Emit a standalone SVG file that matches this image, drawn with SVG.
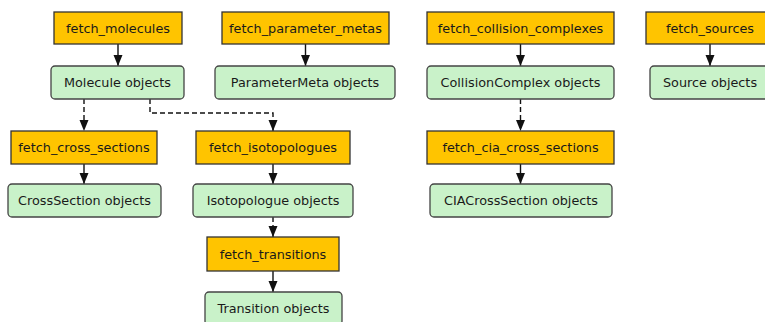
<svg xmlns="http://www.w3.org/2000/svg" width="765" height="322" viewBox="0 0 765 322">
<style>
.fn{fill:#ffc400;stroke:#333;stroke-width:1.3}
.ob{fill:#c9f2c9;stroke:#444;stroke-width:1.3}
text{font-family:"DejaVu Sans",sans-serif;font-size:12.8px;fill:#1a1a1a;text-anchor:middle}
.e{fill:none;stroke:#111;stroke-width:1.4}
.d{stroke-dasharray:5,3}
</style>
<defs>
<marker id="ah" markerUnits="userSpaceOnUse" markerWidth="11" markerHeight="11" refX="11" refY="5.5" orient="auto">
<path d="M0,1 L11,5.5 L0,10 z" fill="#111"/>
</marker>
</defs>
<rect width="765" height="322" fill="#fff"/>
<g id="connectors">
<path class="e" d="M118,44 V66" marker-end="url(#ah)"/>
<path class="e" d="M305.5,44 V66" marker-end="url(#ah)"/>
<path class="e" d="M520.5,44 V66" marker-end="url(#ah)"/>
<path class="e" d="M710,44 V66" marker-end="url(#ah)"/>
<path class="e d" d="M84,99 V131" marker-end="url(#ah)"/>
<path class="e d" d="M150,99 V113 H273 V131" marker-end="url(#ah)"/>
<path class="e d" d="M520.5,99 V131" marker-end="url(#ah)"/>
<path class="e" d="M84,164 V184" marker-end="url(#ah)"/>
<path class="e" d="M273,164 V184" marker-end="url(#ah)"/>
<path class="e" d="M520.5,164 V184" marker-end="url(#ah)"/>
<path class="e d" d="M273,217 V237" marker-end="url(#ah)"/>
<path class="e" d="M273,271 V292" marker-end="url(#ah)"/>
</g>
<g id="fetch_molecules"><rect class="fn" x="54" y="12" width="128" height="32"/><text x="118" y="32.5">fetch_molecules</text></g>
<g id="fetch_parameter_metas"><rect class="fn" x="222" y="12" width="167" height="32"/><text x="305.5" y="32.5">fetch_parameter_metas</text></g>
<g id="fetch_collision_complexes"><rect class="fn" x="427" y="12" width="187" height="32"/><text x="520.5" y="32.5">fetch_collision_complexes</text></g>
<g id="fetch_sources"><rect class="fn" x="646" y="12" width="128" height="32"/><text x="710" y="32.5">fetch_sources</text></g>
<g id="molecule_objects"><rect class="ob" x="51" y="66" width="133" height="33" rx="4"/><text x="117.5" y="87">Molecule objects</text></g>
<g id="parametermeta_objects"><rect class="ob" x="215" y="66" width="180" height="33" rx="4"/><text x="305" y="87">ParameterMeta objects</text></g>
<g id="collisioncomplex_objects"><rect class="ob" x="427" y="66" width="187" height="33" rx="4"/><text x="520.5" y="87">CollisionComplex objects</text></g>
<g id="source_objects"><rect class="ob" x="650" y="66" width="120" height="33" rx="4"/><text x="710" y="87">Source objects</text></g>
<g id="fetch_cross_sections"><rect class="fn" x="11" y="131" width="146" height="33"/><text x="84" y="152">fetch_cross_sections</text></g>
<g id="fetch_isotopologues"><rect class="fn" x="196" y="131" width="154" height="33"/><text x="273" y="152">fetch_isotopologues</text></g>
<g id="fetch_cia_cross_sections"><rect class="fn" x="427" y="131" width="187" height="33"/><text x="520.5" y="152">fetch_cia_cross_sections</text></g>
<g id="crosssection_objects"><rect class="ob" x="8" y="184" width="153" height="33" rx="4"/><text x="84.5" y="205">CrossSection objects</text></g>
<g id="isotopologue_objects"><rect class="ob" x="193" y="184" width="160" height="33" rx="4"/><text x="273" y="205">Isotopologue objects</text></g>
<g id="ciacrosssection_objects"><rect class="ob" x="430" y="184" width="182" height="33" rx="4"/><text x="521" y="205">CIACrossSection objects</text></g>
<g id="fetch_transitions"><rect class="fn" x="207" y="237" width="132" height="34"/><text x="273" y="258.5">fetch_transitions</text></g>
<g id="transition_objects"><rect class="ob" x="205" y="292" width="137" height="33" rx="4"/><text x="273.5" y="313">Transition objects</text></g>
</svg>
